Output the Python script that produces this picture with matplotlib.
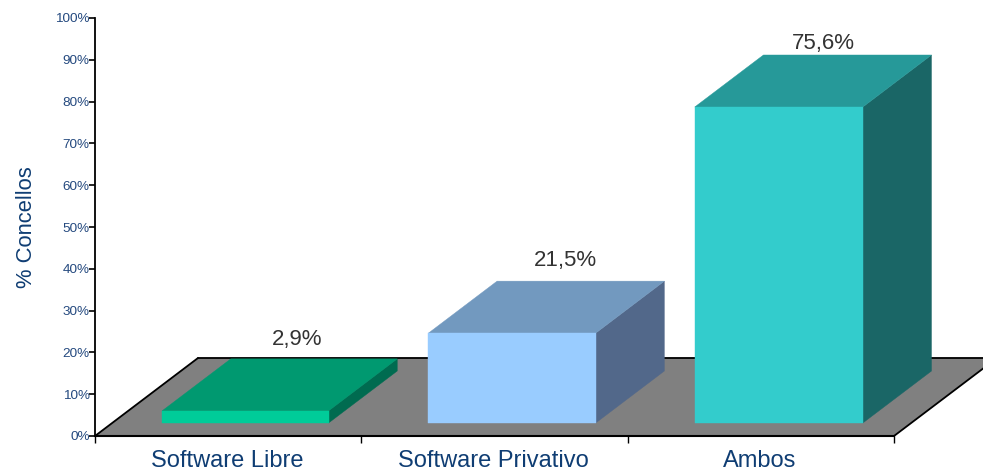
import matplotlib
matplotlib.use("Agg")
import matplotlib.pyplot as plt

plt.rcParams['font.family'] = ['Liberation Sans', 'DejaVu Sans']

categories = ["Software Libre", "Software Privativo", "Ambos"]
values = [2.9, 21.5, 75.6]
value_labels = ["2,9%", "21,5%", "75,6%"]
y_ticks = list(range(0, 101, 10))
y_title = "% Concellos"

front_colors = ["#00CC99", "#99CCFF", "#33CCCC"]
top_colors = ["#009970", "#7299BF", "#269999"]
side_colors = ["#006B50", "#52688A", "#1A6666"]
label_offsets = [(-17, 19), (-15, 21), (-24, 11)]

W, H = 983, 472
X0, X1, Y0, Y100 = 95, 894, 436, 18

fig = plt.figure(figsize=(W / 100, H / 100), dpi=100, facecolor="white")
ax = fig.add_axes([X0 / W, 1 - Y0 / H, (X1 - X0) / W, (Y0 - Y100) / H])
ax.set_xlim(0, 3)
ax.set_ylim(0, 100)
ax.patch.set_alpha(0)

# oblique depth vector, in data units
ppx = (X1 - X0) / 3
ppy = (Y0 - Y100) / 100
DX, DY = 103 / ppx, 78 / ppy


def pt(x, z, y):
    return (x + DX * z, y + DY * z)


def face(points, color, zorder=2):
    xs, ys = zip(*points)
    ax.fill(xs, ys, facecolor=color, edgecolor=color, linewidth=0.3,
            zorder=zorder, clip_on=False)


# floor
face([pt(0, 0, 0), pt(3, 0, 0), pt(3, 1, 0), pt(0, 1, 0)], "#808080", 1)
for a, b in [((0, 0, 0), (0, 1, 0)), ((0, 1, 0), (3, 1, 0)), ((3, 0, 0), (3, 1, 0))]:
    pa, pb = pt(*a), pt(*b)
    ax.plot([pa[0], pb[0]], [pa[1], pb[1]], color="black", lw=1.3, zorder=1.5,
            clip_on=False, solid_capstyle="round")

# bars
gap = 0.1875
z0, z1 = 1 / 6, 5 / 6
for i, v in enumerate(values):
    l, r = i + gap, i + 1 - gap + 0.003 * i
    face([pt(r, z0, 0), pt(r, z1, 0), pt(r, z1, v), pt(r, z0, v)], side_colors[i])
    face([pt(l, z0, v), pt(r, z0, v), pt(r, z1, v), pt(l, z1, v)], top_colors[i])
    face([pt(l, z0, 0), pt(r, z0, 0), pt(r, z0, v), pt(l, z0, v)], front_colors[i], 3)
    ax.annotate(value_labels[i], xy=pt((l + r) / 2, z1, v), xytext=label_offsets[i],
                textcoords="offset pixels", ha="center", va="center",
                fontsize=16, color="#333333", zorder=5, annotation_clip=False)

# axes
for s in ["top", "right"]:
    ax.spines[s].set_visible(False)
ax.spines["left"].set_linewidth(1.3)
ax.spines["bottom"].set_linewidth(1.5)
ax.spines["left"].set_zorder(4)
ax.spines["bottom"].set_zorder(4)

ax.set_yticks(y_ticks)
ax.set_yticklabels([f"{t}%" for t in y_ticks])
ax.tick_params(axis="y", length=4.3, width=1.2, pad=-0.5, labelsize=9.7,
               labelcolor="#24497F", color="black")
ax.set_xticks([0, 1, 2, 3])
ax.set_xticklabels([])
ax.tick_params(axis="x", length=4.8, width=1.0, color="black")

for i, c in enumerate(categories):
    ax.annotate(c, xy=(i + 0.5, 0), xytext=(-1, -25), textcoords="offset pixels",
                ha="center", va="center", fontsize=17, color="#0F3D73",
                annotation_clip=False)

ax.annotate(y_title, xy=(0, 50), xytext=(-68, 0), textcoords="offset pixels",
            rotation=90, ha="center", va="center", fontsize=15.8,
            color="#0F3D73", annotation_clip=False)

fig.savefig("out.png", dpi=100, facecolor="white")
